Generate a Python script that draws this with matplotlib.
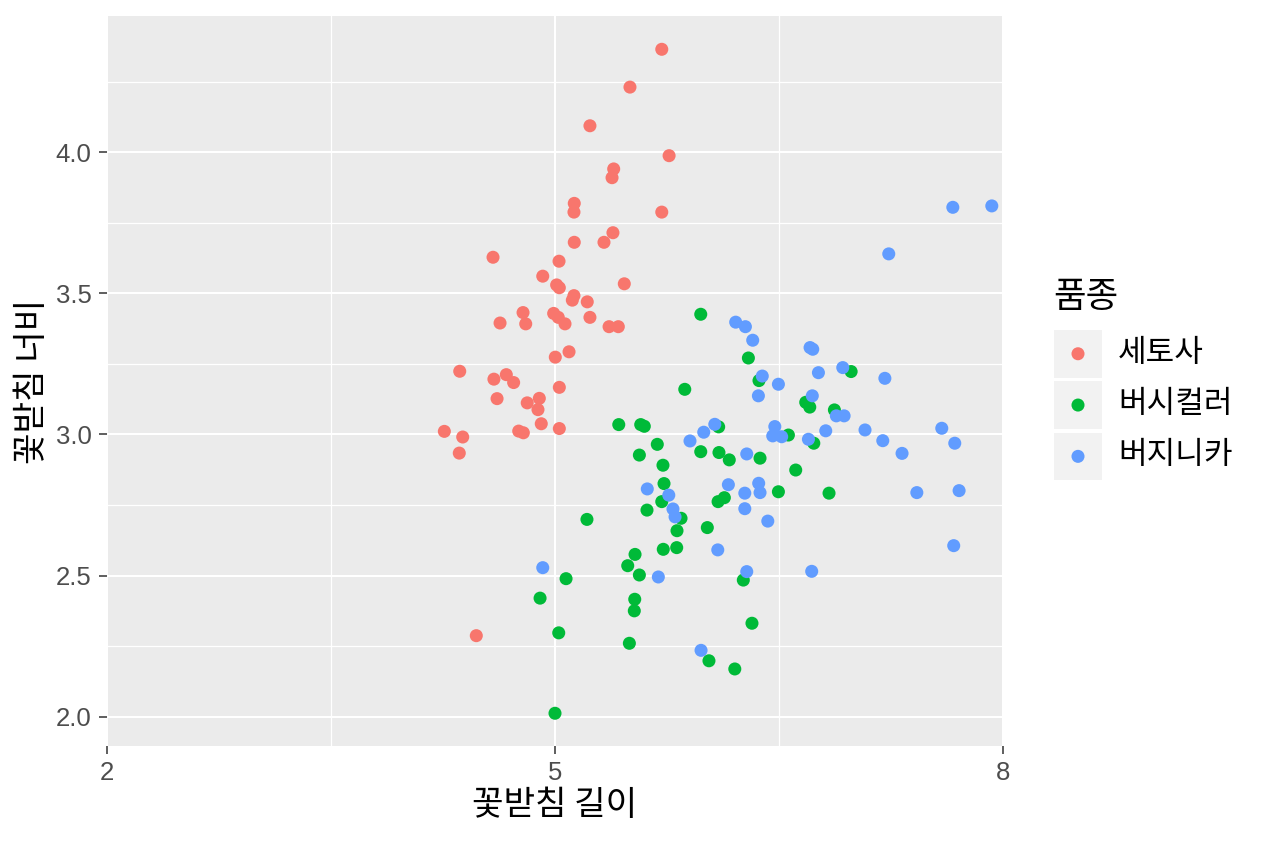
import matplotlib.pyplot as plt
from matplotlib.patches import Rectangle

# 꽃받침 길이 / 너비 (jittered iris values)
setosa_x = [5.715, 5.502, 5.234, 5.764, 5.393, 5.382, 5.129, 5.127, 5.715, 5.388,
            5.129, 5.328, 4.585, 5.027, 4.918, 5.464, 5.011, 5.029, 5.127, 5.116,
            5.216, 4.786, 4.632, 4.804, 4.991, 5.022, 5.067, 5.234, 5.362, 5.424,
            5.002, 5.094, 4.362, 4.591, 4.674, 4.723, 5.029, 4.612, 4.814, 4.895,
            4.886, 4.908, 5.029, 4.757, 4.788, 4.259, 4.382, 4.359, 4.473]
setosa_y = [4.365, 4.231, 4.094, 3.988, 3.941, 3.910, 3.819, 3.788, 3.788, 3.715,
            3.681, 3.681, 3.628, 3.614, 3.561, 3.534, 3.530, 3.520, 3.492, 3.476,
            3.470, 3.432, 3.395, 3.392, 3.429, 3.415, 3.392, 3.415, 3.382, 3.382,
            3.274, 3.293, 3.224, 3.196, 3.212, 3.184, 3.167, 3.127, 3.112, 3.128,
            3.088, 3.038, 3.021, 3.012, 3.006, 3.011, 2.991, 2.934, 2.287]

versicolor_x = [5.869, 5.427, 5.574, 5.598, 5.685, 5.565, 5.723, 5.730, 5.715, 5.616,
                5.844, 5.817, 5.214, 5.536, 5.487, 5.725, 5.815, 5.565, 5.074, 4.900,
                5.534, 5.531, 5.025, 5.498, 5.000, 5.976, 6.295, 6.366, 6.983, 6.679,
                6.706, 6.871, 6.096, 6.563, 6.733, 5.976, 6.098, 6.373, 6.167, 6.612,
                6.496, 6.835, 6.092, 6.134, 6.020, 6.261, 6.319, 6.031, 6.204]
versicolor_y = [3.160, 3.035, 3.035, 3.029, 2.965, 2.927, 2.891, 2.826, 2.762, 2.732,
                2.703, 2.659, 2.699, 2.575, 2.535, 2.593, 2.599, 2.502, 2.489, 2.420,
                2.416, 2.375, 2.297, 2.260, 2.012, 3.426, 3.271, 3.191, 3.223, 3.114,
                3.097, 3.087, 3.027, 2.998, 2.969, 2.939, 2.936, 2.916, 2.910, 2.874,
                2.797, 2.792, 2.762, 2.776, 2.670, 2.484, 2.331, 2.198, 2.169]

virginica_x = [5.904, 5.618, 5.762, 5.790, 5.804, 4.918, 5.692, 7.664, 7.925, 7.235,
               6.210, 6.275, 6.324, 6.708, 6.726, 6.388, 6.496, 6.362, 6.764, 6.927,
               7.209, 6.723, 6.884, 6.936, 6.813, 7.076, 7.195, 7.324, 7.590, 7.677,
               5.996, 6.070, 6.472, 6.458, 6.518, 6.697, 6.284, 6.161, 6.364, 6.271,
               6.373, 6.271, 6.425, 7.423, 7.706, 7.670, 6.090, 6.284, 6.719, 5.978]
virginica_y = [2.977, 2.807, 2.785, 2.736, 2.708, 2.528, 2.495, 3.805, 3.810, 3.640,
               3.398, 3.382, 3.334, 3.308, 3.302, 3.207, 3.178, 3.137, 3.219, 3.237,
               3.199, 3.137, 3.066, 3.066, 3.013, 3.016, 2.978, 2.933, 3.022, 2.969,
               3.008, 3.036, 3.028, 2.995, 2.992, 2.983, 2.931, 2.822, 2.827, 2.792,
               2.794, 2.737, 2.693, 2.794, 2.801, 2.606, 2.591, 2.514, 2.515, 2.235]

species = ['세토사', '버시컬러', '버지니카']
colors = ['#F8766D', '#00BA38', '#619CFF']
x_ticks = [2, 5, 8]
y_ticks = [2.0, 2.5, 3.0, 3.5, 4.0]

plt.rcParams['font.family'] = ['Noto Sans CJK KR', 'DejaVu Sans']

fig = plt.figure(figsize=(12.64, 8.43), dpi=100)
ax = fig.add_axes([107 / 1264, 97 / 843, 896 / 1264, 730 / 843])
ax.set_facecolor('#EBEBEB')

groups = [(setosa_x, setosa_y), (versicolor_x, versicolor_y), (virginica_x, virginica_y)]
for (xs, ys), c in zip(groups, colors):
    ax.scatter(xs, ys, s=88, color=c, edgecolors='none', zorder=3)

ax.set_xlim(2, 8)
ax.set_ylim(1.896, 4.483)
ax.set_xticks(x_ticks)
ax.set_xticklabels([str(t) for t in x_ticks])
ax.set_yticks(y_ticks)
ax.set_yticklabels(['%.1f' % t for t in y_ticks])
ax.set_xticks([3.5, 6.5], minor=True)
ax.set_yticks([2.25, 2.75, 3.25, 3.75, 4.25], minor=True)
ax.grid(which='major', color='white', linewidth=1.5)
ax.grid(which='minor', color='white', linewidth=0.9)
ax.set_axisbelow(True)
for sp in ax.spines.values():
    sp.set_visible(False)

ax.tick_params(which='major', length=5.5, width=1.1, color='#333333',
               labelsize=18.5, labelcolor='#4D4D4D', pad=5.5)
ax.tick_params(which='minor', length=0)
for lab in ax.get_xticklabels() + ax.get_yticklabels():
    lab.set_family(['Liberation Sans', 'DejaVu Sans'])

ax.set_xlabel('꽃받침 길이', fontsize=24.7, labelpad=2)
ax.set_ylabel('꽃받침 너비', fontsize=24.7, labelpad=4)

# legend drawn on its own axes, units = figure pixels (y downwards)
lax = fig.add_axes([1054 / 1264, 1 - 485 / 843, 200 / 1264, 210 / 843])
lax.set_xlim(1054, 1254)
lax.set_ylim(485, 275)
lax.axis('off')
lax.text(1053, 297, '품종', fontsize=25.5, ha='left', va='center')
key_top = 330
for i, (name, c) in enumerate(zip(species, colors)):
    top = key_top + i * 51.3
    lax.add_patch(Rectangle((1054, top), 48, 47.5, facecolor='#F2F2F2',
                            edgecolor='none'))
    lax.scatter([1078], [top + 23.75], s=88, color=c, edgecolors='none')
    lax.text(1118, top + 23, name, fontsize=22.4, ha='left', va='center')

fig.savefig('out.png', dpi=100)
